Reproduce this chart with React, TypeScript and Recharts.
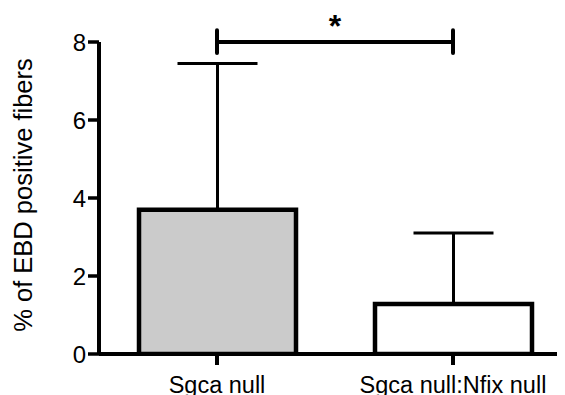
import React from 'react';
import { BarChart, Bar, XAxis, YAxis, ErrorBar, ReferenceLine, Cell } from 'recharts';

// Group labels, mean values and upper SD for each group
const groups = ['Sgca null', 'Sgca null:Nfix null'];
const means = [3.7, 1.28];
const sds = [3.75, 1.82];
const fills = ['#cbcbcb', '#ffffff'];
const yTicks = [0, 2, 4, 6, 8];
const yTitle = '% of EBD positive fibers';

// Significance bracket between the two groups
const sigLevel = 8;
const sigCapLow = 7.72;
const sigCapHigh = 8.3;
const sigMark = '*';

const data = groups.map((g, i) => ({ group: g, mean: means[i], err: [0, sds[i]] }));

const FONT = '"Liberation Sans", Arial, Helvetica, sans-serif';

export default function App() {
  return (
    <div style={{ margin: '-8px 0 0 -8px', width: 565, height: 395, overflow: 'hidden', background: '#fff' }}>
      <BarChart
        width={580}
        height={395}
        data={data}
        margin={{ top: 42, right: 9, bottom: 0, left: 0 }}
        barSize={157}
      >
        <XAxis
          dataKey="group"
          height={41}
          axisLine={{ stroke: '#000', strokeWidth: 4 }}
          tickLine={{ stroke: '#000', strokeWidth: 4 }}
          tickSize={11}
          tickMargin={11}
          tick={{ fontSize: 23.5, fill: '#000', fontFamily: FONT }}
          interval={0}
        />
        <YAxis
          width={99}
          domain={[0, 8]}
          ticks={yTicks}
          allowDataOverflow
          axisLine={{ stroke: '#000', strokeWidth: 4 }}
          tickLine={{ stroke: '#000', strokeWidth: 3.5 }}
          tickSize={11}
          tickMargin={2}
          tick={{ fontSize: 24, fill: '#000', fontFamily: FONT }}
          label={{
            value: yTitle,
            angle: -90,
            position: 'insideLeft',
            offset: 23,
            dy: -3,
            style: { textAnchor: 'middle', fontSize: 25.5, fill: '#000', fontFamily: FONT },
          }}
        />
        <Bar dataKey="mean" stroke="#000" strokeWidth={4.5} isAnimationActive={false}>
          {data.map((d, i) => (
            <Cell key={d.group} fill={fills[i]} />
          ))}
          <ErrorBar dataKey="err" direction="y" width={40} stroke="#000" strokeWidth={3} isAnimationActive={false} />
        </Bar>
        <ReferenceLine
          segment={[{ x: groups[0], y: sigLevel }, { x: groups[1], y: sigLevel }]}
          stroke="#000"
          strokeWidth={4}
          ifOverflow="visible"
          label={{
            value: sigMark,
            position: 'top',
            offset: 5,
            style: { fontSize: 32, fontWeight: 'bold', fill: '#000', fontFamily: FONT },
          }}
        />
        <ReferenceLine
          segment={[{ x: groups[0], y: sigCapLow }, { x: groups[0], y: sigCapHigh }]}
          stroke="#000"
          strokeWidth={4}
          strokeLinecap="round"
          ifOverflow="visible"
        />
        <ReferenceLine
          segment={[{ x: groups[1], y: sigCapLow }, { x: groups[1], y: sigCapHigh }]}
          stroke="#000"
          strokeWidth={4}
          strokeLinecap="round"
          ifOverflow="visible"
        />
      </BarChart>
    </div>
  );
}
